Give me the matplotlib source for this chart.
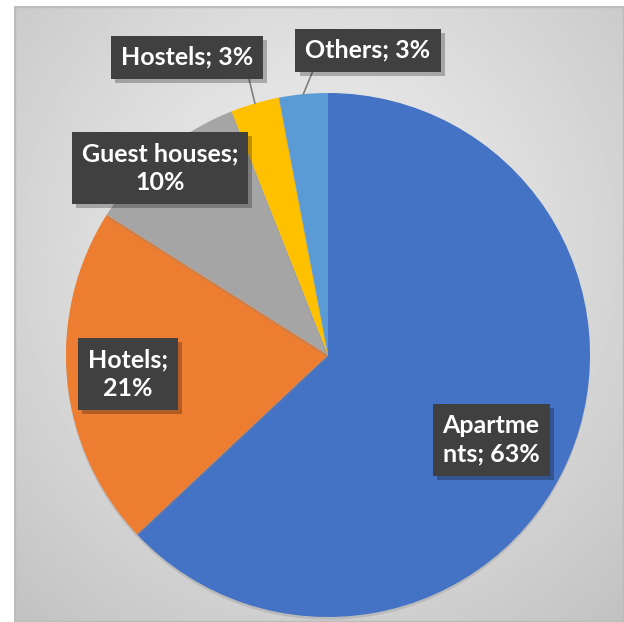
import numpy as np
import matplotlib.pyplot as plt
from matplotlib import patheffects as pe
from matplotlib.patches import Rectangle

plt.rcParams['font.family'] = ['Lato', 'DejaVu Sans']

# data
labels = ['Apartments', 'Hotels', 'Guest houses', 'Hostels', 'Others']
values = [63, 21, 10, 3, 3]
colors = ['#4472C4', '#ED7D31', '#A5A5A5', '#FFC000', '#5B9BD5']
label_text = ['Apartme\nnts; 63%', 'Hotels;\n21%', 'Guest houses;\n10%', 'Hostels; 3%', 'Others; 3%']
# label box centres in pixels (x, y from top)
label_pos = [(491, 440), (128, 374), (160, 168), (187, 57), (368, 50)]
W, H = 624, 622

fig = plt.figure(figsize=(W / 100, H / 100), dpi=100)

# background with radial gradient
bg = fig.add_axes([14 / W, 0, (W - 14) / W, (H - 6) / H])
yy, xx = np.mgrid[0:1:300j, 0:1:300j]
d = np.sqrt(((xx - 0.5) / 0.75) ** 2 + ((yy - 0.6) / 0.8) ** 2)
g = 0.94 - 0.18 * np.clip(d, 0, 1) ** 1.2
bg.imshow(g, cmap='gray', vmin=0, vmax=1, extent=(0, 1, 0, 1), aspect='auto', origin='lower')
bg.add_patch(Rectangle((0, 0), 1, 1, transform=bg.transAxes, fill=False,
                       edgecolor='#bcbcbc', linewidth=2.5))
bg.set_axis_off()

# pie
R = 262
cx, cy = 328, 355
ax = fig.add_axes([(cx - R) / W, 1 - (cy + R) / H, 2 * R / W, 2 * R / H])
wedges, _ = ax.pie(values, colors=colors, startangle=90, counterclock=False,
                   radius=1, wedgeprops=dict(linewidth=0))
for w in wedges:
    w.set_path_effects([pe.SimplePatchShadow(offset=(0, -2), shadow_rgbFace='#888888', alpha=0.3),
                        pe.Normal()])
ax.set_xlim(-1, 1)
ax.set_ylim(-1, 1)
ax.set_aspect('equal')

# leader line anchor (fraction of box) for the outside labels
relpos = {3: (0.95, 0.0), 4: (0.09, 0.0)}

for i, (w, txt, (px, py)) in enumerate(zip(wedges, label_text, label_pos)):
    xt = ((px - cx) / R, (cy - py) / R)
    ang = np.deg2rad((w.theta1 + w.theta2) / 2)
    xy = (np.cos(ang), np.sin(ang))
    kw = {}
    if i in relpos:
        kw['arrowprops'] = dict(arrowstyle='-', color='#7f7f7f', lw=1.2,
                                relpos=relpos[i], shrinkA=0, shrinkB=0)
    t = ax.annotate(txt, xy=xy, xytext=xt, textcoords='data', ha='center', va='center',
                    color='white', fontsize=18, fontweight='bold', linespacing=1.3,
                    bbox=dict(boxstyle='square,pad=0.4', facecolor='#404040',
                              edgecolor='none', linewidth=0),
                    annotation_clip=False, **kw)
    t.get_bbox_patch().set_path_effects([
        pe.SimplePatchShadow(offset=(3, -3), shadow_rgbFace='black', alpha=0.25),
        pe.Normal()])

fig.savefig('out.png', dpi=100)
